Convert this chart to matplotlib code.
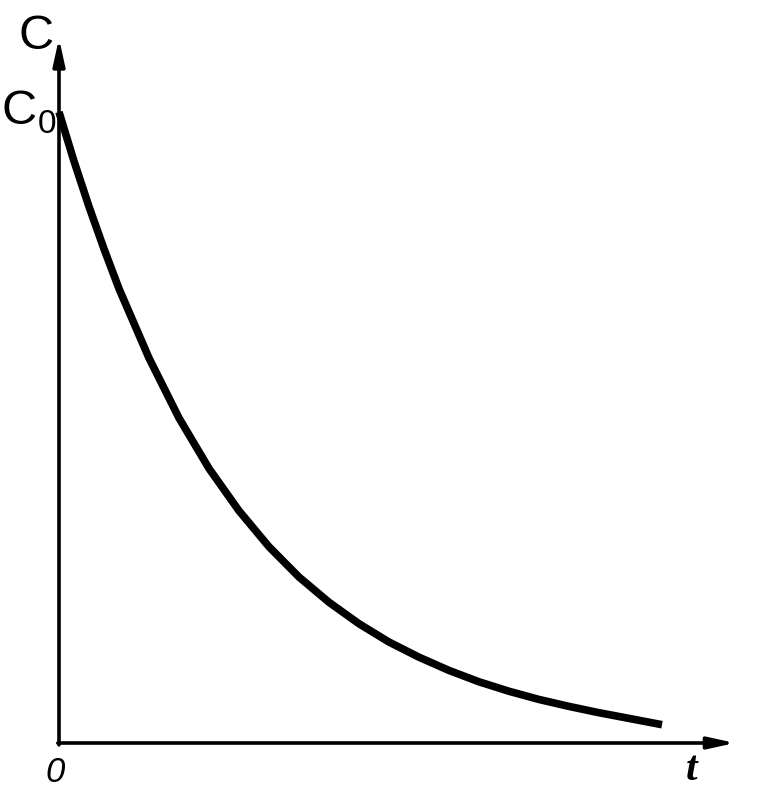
import matplotlib
matplotlib.use("Agg")
import matplotlib.pyplot as plt
import numpy as np

# curve (t in arbitrary units, C relative to C0)
t_vals = [0.0, 0.25, 0.5, 0.75, 1.0, 1.5, 2.0, 2.5, 3.0, 3.5, 4.0, 4.5,
          5.0, 5.5, 6.0, 6.5, 7.0, 7.5, 8.0, 8.5, 9.0, 9.5, 10.05]
c_vals = [1.0, 0.922, 0.85, 0.783, 0.72, 0.61, 0.515, 0.435, 0.368, 0.311, 0.263, 0.223,
          0.189, 0.16, 0.136, 0.115, 0.097, 0.082, 0.069, 0.058, 0.048, 0.039, 0.029]

t_axis_end = 11.27
c_axis_end = 1.117

fig = plt.figure(figsize=(7.77, 7.91), dpi=100)
ax = fig.add_axes([0, 0, 1, 1])
ax.set_xlim(-59 / 60, (777 - 59) / 60)
ax.set_ylim((743 - 791) / 631, 743 / 631)
ax.axis('off')

# axes with arrow heads
arrow = dict(arrowstyle='-|>,head_length=1.6,head_width=0.35', color='black', lw=2.6,
             shrinkA=0, shrinkB=0)
ax.annotate('', xy=(t_axis_end, 0), xytext=(-0.02, 0), arrowprops=arrow)
ax.annotate('', xy=(0, c_axis_end), xytext=(0, -0.003), arrowprops=arrow)

ax.plot(t_vals, c_vals, color='black', lw=5.5, solid_capstyle='butt',
        solid_joinstyle='round')

# labels
ax.text(-0.38, 1.119, 'C', fontsize=35, family='Liberation Sans', ha='center', va='center')
ax.text(-0.66, 1.0, 'C', fontsize=35, family='Liberation Sans', ha='center', va='center')
ax.text(-0.2, 0.98, '0', fontsize=24, family='Liberation Sans', ha='center', va='center')
ax.text(-0.07, -0.046, '0', fontsize=25, family='Liberation Sans', style='italic',
        ha='center', va='center')
ax.text(10.55, -0.043, 't', fontsize=30, family='Liberation Serif', style='italic',
        weight='bold', ha='center', va='center')

fig.savefig('out.png', dpi=100, facecolor='white')
